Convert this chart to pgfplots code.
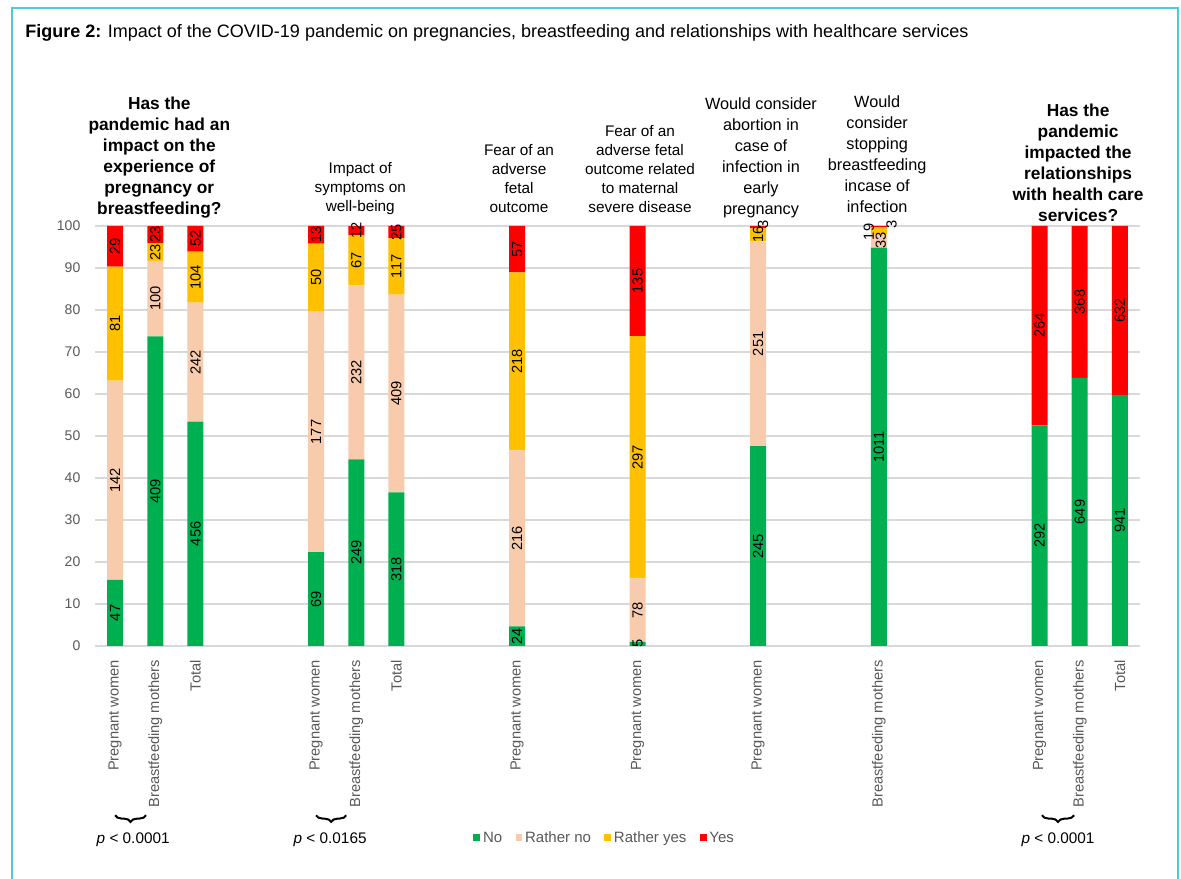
\documentclass[border=0pt]{standalone}
\usepackage{pgfplots}
\pgfplotsset{compat=1.18}
\usepackage{pgfplotstable}
\usepackage{fontspec}
\setmainfont{Liberation Sans}
\usetikzlibrary{decorations.pathreplacing}
\definecolor{cNo}{HTML}{00B050}
\definecolor{cRNo}{HTML}{F8CBAD}
\definecolor{cRYes}{HTML}{FFC000}
\definecolor{cYes}{HTML}{FF0000}
\definecolor{cGrid}{HTML}{D9D9D9}
\definecolor{cText}{HTML}{595959}
\definecolor{cFrame}{RGB}{78,200,220}

% percentages of each answer (computed from the counts shown on the bars)
\pgfplotstableread{
x  no    rno   ryes  yes
0  15.72 47.49 27.09 9.70
1  73.69 18.02 4.14  4.14
2  53.40 28.34 12.18 6.09
5  22.33 57.28 16.18 4.21
6  44.46 41.43 11.96 2.14
7  36.59 47.07 13.46 2.88
10 4.66  41.94 42.33 11.07
13 0.97  15.15 57.67 26.21
16 47.57 48.74 3.11  0.58
19 94.84 3.10  1.78  0.28
23 52.52 0     0     47.48
24 63.82 0     0     36.18
25 59.82 0     0     40.18
}\pct

% count labels at the middle of each segment
\pgfplotstableread{
x     y      lab
0     7.86   47
0     39.46  142
0     76.76  81
0     95.15  29
1     36.85  409
1     82.70  100
1     93.78  23
1     97.93  23
2     26.70  456
2     67.56  242
2     87.82  104
2     96.96  52
5     11.17  69
5     50.97  177
5     87.70  50
5     97.90  13
6     22.23  249
6     65.18  232
6     91.88  67
6     98.93  12
7     18.30  318
7     60.13  409
7     90.39  117
7     98.56  25
10    2.33   24
10    25.63  216
10    67.77  218
10    94.47  57
13    0.60   5
13    8.54   78
13    44.95  297
13    86.89  135
16    23.79  245
16    71.94  251
16    97.90  16
16.12 100.3  3
19    47.42  1011
19.05 96.5   33
18.75 98.6   19
19.32 100.3  3
23    26.26  292
23    76.26  264
24    31.91  649
24    81.91  368
25    29.91  941
25    79.91  632
}\labs

\begin{document}
\begin{tikzpicture}
\useasboundingbox (0,0) rectangle (885.75pt,658.5pt);
\fill[white] (0,0) rectangle (885.75pt,658.5pt);
\draw[cFrame, line width=1.5pt] (9pt,-2pt) -- (9pt,652.5pt) -- (883.5pt,652.5pt) -- (883.5pt,-2pt);
\node[anchor=base west, inner sep=0pt, font=\fontsize{13.5}{16}\selectfont] at (18.75pt,630.5pt)
  {\textbf{Figure 2:} Impact of the COVID-19 pandemic on pregnancies, breastfeeding and relationships with healthcare services};

\begin{axis}[
  at={(71.25pt,174pt)}, anchor=south west,
  scale only axis, width=783.75pt, height=315pt,
  xmin=-0.5, xmax=25.5, ymin=0, ymax=100,
  ybar stacked, bar width=12pt,
  axis line style={draw=none},
  ymajorgrids, grid style={draw=cGrid, line width=1pt},
  major tick length=0pt,
  ytick={0,10,...,100},
  yticklabel style={font=\fontsize{10.5}{12}\selectfont, text=cText},
  yticklabel shift=7.5pt,
  /pgf/number format/assume math mode=true,
  xtick={0,1,2,5,6,7,10,13,16,19,23,24,25},
  xticklabels={Pregnant women,Breastfeeding mothers,Total,Pregnant women,Breastfeeding mothers,Total,Pregnant women,Pregnant women,Pregnant women,Breastfeeding mothers,Pregnant women,Breastfeeding mothers,Total},
  xticklabel style={rotate=90, anchor=east, font=\fontsize{11}{13}\selectfont, text=cText},
  xticklabel shift=7pt,
  legend image code/.code={\fill[#1] (0pt,-2.6pt) rectangle (5.2pt,2.6pt);},
  legend columns=4,
  legend style={draw=none, fill=none, at={(0.488,-0.457)}, anchor=center,
    font=\fontsize{11.25}{13}\selectfont, text=cText,
    /tikz/every even column/.append style={column sep=8pt},
    inner sep=0pt},
]
\addplot[fill=cNo, draw=none] table[x=x, y=no] {\pct};
\addlegendentry{No}
\addplot[fill=cRNo, draw=none] table[x=x, y=rno] {\pct};
\addlegendentry{Rather no}
\addplot[fill=cRYes, draw=none] table[x=x, y=ryes] {\pct};
\addlegendentry{Rather yes}
\addplot[fill=cYes, draw=none] table[x=x, y=yes] {\pct};
\addlegendentry{Yes}
\end{axis}

\begin{axis}[
  at={(71.25pt,174pt)}, anchor=south west,
  scale only axis, width=783.75pt, height=315pt,
  xmin=-0.5, xmax=25.5, ymin=0, ymax=100,
  hide axis, clip=false,
]
\addplot[draw=none, mark=none, nodes near coords, point meta=explicit symbolic,
  every node near coord/.append style={anchor=center, rotate=90, inner sep=0pt,
    font=\fontsize{11}{12}\selectfont, text=black}]
  table[x=x, y=y, meta=lab] {\labs};

% group headers
\node[anchor=south, align=center, inner sep=0pt, font=\bfseries\fontsize{13}{15.75}\selectfont]
  at (axis cs:1.1,101.9) {Has the\\pandemic had an\\impact on the\\experience of\\pregnancy or\\breastfeeding?};
\node[anchor=south, align=center, inner sep=0pt, font=\fontsize{11.5}{14.25}\selectfont]
  at (axis cs:6.1,102.6) {Impact of\\symptoms on\\well-being};
\node[anchor=south, align=center, inner sep=0pt, font=\fontsize{11.5}{14.25}\selectfont]
  at (axis cs:10.05,103.1) {Fear of an\\adverse\\fetal\\outcome};
\node[anchor=south, align=center, inner sep=0pt, font=\fontsize{11.5}{14.25}\selectfont]
  at (axis cs:13.06,103.1) {Fear of an\\adverse fetal\\outcome related\\to maternal\\severe disease};
\node[anchor=south, align=center, inner sep=0pt, font=\fontsize{12.2}{15.75}\selectfont]
  at (axis cs:16.07,101.9) {Would consider\\abortion in\\case of\\infection in\\early\\pregnancy};
\node[anchor=south, align=center, inner sep=0pt, font=\fontsize{12.2}{15.75}\selectfont]
  at (axis cs:18.96,103.1) {Would\\consider\\stopping\\breastfeeding\\incase of\\infection};
\node[anchor=south, align=center, inner sep=0pt, font=\bfseries\fontsize{13}{15.75}\selectfont]
  at (axis cs:23.96,101.0) {Has the\\pandemic\\impacted the\\relationships\\with health care\\services?};

% braces and p-values
\draw[decorate, decoration={brace, mirror, amplitude=5pt}, line width=1.5pt]
  (axis cs:0,-40.3) -- (axis cs:0.77,-40.3);
\draw[decorate, decoration={brace, mirror, amplitude=5pt}, line width=1.5pt]
  (axis cs:5,-40.3) -- (axis cs:5.75,-40.3);
\draw[decorate, decoration={brace, mirror, amplitude=5pt}, line width=1.5pt]
  (axis cs:23.06,-40.3) -- (axis cs:23.86,-40.3);
\node[font=\fontsize{11.5}{13}\selectfont] at (axis cs:0.45,-46.2) {\textit{p} < 0.0001};
\node[font=\fontsize{11.5}{13}\selectfont] at (axis cs:5.35,-46.2) {\textit{p} < 0.0165};
\node[font=\fontsize{11.5}{13}\selectfont] at (axis cs:23.46,-46.2) {\textit{p} < 0.0001};
\end{axis}
\end{tikzpicture}
\end{document}
